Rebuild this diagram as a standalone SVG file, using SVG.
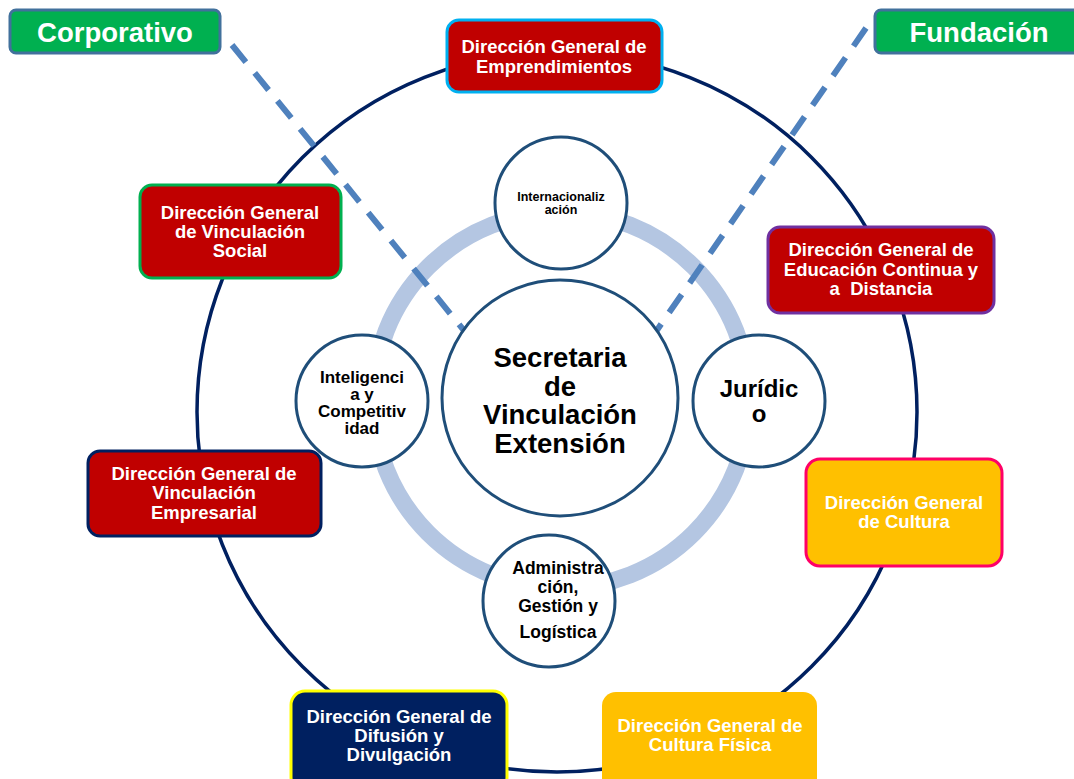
<svg xmlns="http://www.w3.org/2000/svg" width="1074" height="779" viewBox="0 0 1074 779">
<style>
.t{font-family:"Liberation Sans",Arial,sans-serif;font-weight:bold;text-anchor:middle}
.w{fill:#ffffff}
.k{fill:#000000}
.bx{stroke-width:3}
.sc{fill:#ffffff;stroke:#1f4e79;stroke-width:3}
.dash{stroke:#4f81bd;stroke-width:6;stroke-dasharray:22 14;fill:none}
</style>
<rect width="1074" height="779" fill="#ffffff"/>
<g id="connectors">
<circle cx="557" cy="412" r="360" fill="none" stroke="#002060" stroke-width="3.5"/>
<circle cx="561" cy="400" r="188" fill="none" stroke="#b4c6e2" stroke-width="17"/>
<line class="dash" x1="232" y1="45" x2="466" y2="333"/>
<line class="dash" x1="866" y1="28" x2="655" y2="333"/>
</g>
<g id="internacionalizacion">
<circle class="sc" cx="561" cy="203" r="66"/>
<text class="t k" font-size="12.5"><tspan x="561" y="201">Internacionaliz</tspan><tspan x="561" y="214">ación</tspan></text>
</g>
<g id="juridico">
<circle class="sc" cx="759" cy="401" r="66"/>
<text class="t k" font-size="24"><tspan x="759" y="397">Jurídic</tspan><tspan x="759" y="422">o</tspan></text>
</g>
<g id="inteligencia">
<circle class="sc" cx="362" cy="401" r="66"/>
<text class="t k" font-size="17"><tspan x="362" y="383">Inteligenci</tspan><tspan x="362" y="400">a y</tspan><tspan x="362" y="417">Competitiv</tspan><tspan x="362" y="434">idad</tspan></text>
</g>
<g id="administracion">
<circle class="sc" cx="549" cy="601" r="66"/>
<text class="t k" font-size="17.5"><tspan x="558" y="574">Administra</tspan><tspan x="558" y="593">ción,</tspan><tspan x="558" y="612">Gestión y</tspan><tspan x="558" y="638">Logística</tspan></text>
</g>
<g id="secretaria">
<circle class="sc" cx="560" cy="398" r="118"/>
<text class="t k" font-size="27.5"><tspan x="560" y="367">Secretaria</tspan><tspan x="560" y="396">de</tspan><tspan x="560" y="424">Vinculación</tspan><tspan x="560" y="453">Extensión</tspan></text>
</g>
<g id="emprendimientos">
<rect class="bx" x="447" y="20" width="215" height="72" rx="12" fill="#c00000" stroke="#00b0f0"/>
<text class="t w" font-size="18.5"><tspan x="554" y="52.5">Dirección General de</tspan><tspan x="554" y="72.5">Emprendimientos</tspan></text>
</g>
<g id="social">
<rect class="bx" x="140" y="185" width="201" height="93" rx="12" fill="#c00000" stroke="#00b050"/>
<text class="t w" font-size="18.5"><tspan x="240" y="218.5">Dirección General</tspan><tspan x="240" y="237.5">de Vinculación</tspan><tspan x="240" y="256.5">Social</tspan></text>
</g>
<g id="educacion">
<rect class="bx" x="768" y="227" width="226" height="86" rx="12" fill="#c00000" stroke="#7030a0"/>
<text class="t w" font-size="18.5"><tspan x="881" y="256">Dirección General de</tspan><tspan x="881" y="275.5">Educación Continua y</tspan><tspan x="881" y="295" xml:space="preserve">a  Distancia</tspan></text>
</g>
<g id="empresarial">
<rect class="bx" x="88" y="451" width="233" height="85" rx="12" fill="#c00000" stroke="#002060"/>
<text class="t w" font-size="18.5"><tspan x="204" y="479.5">Dirección General de</tspan><tspan x="204" y="499">Vinculación</tspan><tspan x="204" y="518.5">Empresarial</tspan></text>
</g>
<g id="cultura">
<rect class="bx" x="806" y="459" width="196" height="107" rx="14" fill="#ffc000" stroke="#ff0066"/>
<text class="t w" font-size="18.5"><tspan x="904" y="509">Dirección General</tspan><tspan x="904" y="528">de Cultura</tspan></text>
</g>
<g id="difusion">
<rect class="bx" x="291" y="691" width="216" height="100" rx="14" fill="#002060" stroke="#ffff00"/>
<text class="t w" font-size="18.5"><tspan x="399" y="723">Dirección General de</tspan><tspan x="399" y="742">Difusión y</tspan><tspan x="399" y="761">Divulgación</tspan></text>
</g>
<g id="culturafisica">
<rect x="602" y="692" width="215" height="100" rx="14" fill="#ffc000"/>
<text class="t w" font-size="18.5"><tspan x="710" y="732">Dirección General de</tspan><tspan x="710" y="751">Cultura Física</tspan></text>
</g>
<g id="corporativo">
<rect class="bx" x="10" y="10" width="210" height="43" rx="6" fill="#00b050" stroke="#41719c"/>
<text class="t w" font-size="27.5" x="115" y="42">Corporativo</text>
</g>
<g id="fundacion">
<rect class="bx" x="875" y="10" width="210" height="43" rx="6" fill="#00b050" stroke="#41719c"/>
<text class="t w" font-size="27.5" x="979" y="42">Fundación</text>
</g>
</svg>
